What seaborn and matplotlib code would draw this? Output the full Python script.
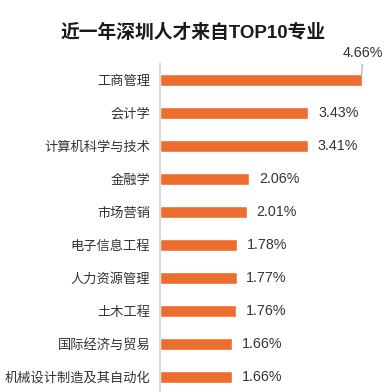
import matplotlib
matplotlib.use("Agg")
import matplotlib.pyplot as plt
import seaborn as sns
import pandas as pd

# Data
majors = ['工商管理', '会计学', '计算机科学与技术', '金融学', '市场营销',
          '电子信息工程', '人力资源管理', '土木工程', '国际经济与贸易', '机械设计制造及其自动化']
shares = [4.66, 3.43, 3.41, 2.06, 2.01, 1.78, 1.77, 1.76, 1.66, 1.66]
title = '近一年深圳人才来自TOP10专业'

bar_color = '#ED6D2F'
text_color = '#333333'

sns.set_style('white')
plt.rcParams['font.family'] = ['Liberation Sans', 'Noto Sans CJK SC', 'DejaVu Sans']

df = pd.DataFrame({'major': majors, 'share': shares})

fig = plt.figure(figsize=(3.9, 3.92), dpi=100)
ax = fig.add_axes([0.41, -0.004, 0.564, 0.842])

sns.barplot(data=df, x='share', y='major', orient='h', color=bar_color,
            width=0.37, saturation=1, ax=ax)

ax.set_xlim(0, 5.08)
ax.set_xlabel('')
ax.set_ylabel('')
ax.set_xticks([])
ax.tick_params(axis='y', length=0, pad=7, labelsize=9.5, labelcolor=text_color)

for side in ['top', 'right', 'bottom']:
    ax.spines[side].set_visible(False)
ax.spines['left'].set_color('#d9d9d9')
ax.spines['left'].set_linewidth(1.5)

# value labels
for i, v in enumerate(shares):
    if i == 0:
        ax.annotate(f'{v:.2f}%', xy=(v, i - 0.15), xytext=(1, 16),
                    textcoords='offset points', ha='center', va='center',
                    fontsize=10.3, color=text_color,
                    arrowprops=dict(arrowstyle='-', color='#a6a6a6', lw=0.8,
                                    shrinkA=1, shrinkB=0))
    else:
        ax.annotate(f'{v:.2f}%', xy=(v, i), xytext=(7, 0),
                    textcoords='offset points', ha='left', va='center',
                    fontsize=10.3, color=text_color)

fig.text(0.494, 1 - 33 / 392, title, ha='center', va='center',
         fontsize=13.5, fontweight='bold', color='#1a1a1a')

fig.savefig('out.png', dpi=100)
